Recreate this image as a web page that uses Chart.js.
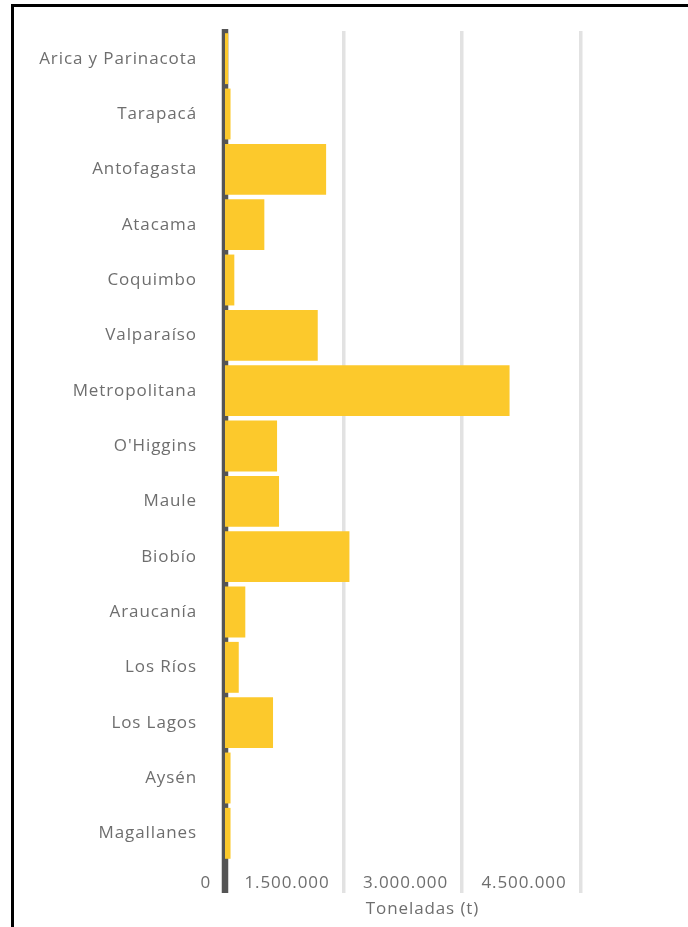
<!DOCTYPE html>
<html lang="es">
<head>
<meta charset="utf-8">
<title>Toneladas por región</title>
<script src="https://cdn.jsdelivr.net/npm/chart.js@4/dist/chart.umd.min.js"></script>
<style>
    html, body { margin: 0; padding: 0; background: #fff; }
    body { width: 688px; height: 927px; position: relative; overflow: hidden; }
    .frame {
        position: absolute;
        left: 11px; top: 4px; right: -20px; bottom: -20px;
        border-top: 3px solid #000;
        border-left: 3px solid #000;
    }
    .wrap { position: absolute; left: 0; top: 0; width: 688px; height: 927px; }
</style>
</head>
<body>
<div class="frame"></div>
<div class="wrap"><canvas id="chartRegiones"></canvas></div>
<script>
const REGIONES = [
    'Arica y Parinacota', 'Tarapacá', 'Antofagasta', 'Atacama', 'Coquimbo',
    'Valparaíso', 'Metropolitana', "O'Higgins", 'Maule', 'Biobío',
    'Araucanía', 'Los Ríos', 'Los Lagos', 'Aysén', 'Magallanes',
];
// toneladas
const TONELADAS = [
    40000, 70000, 1280000, 498000, 118000,
    1174000, 3602000, 659000, 684000, 1575000,
    257000, 174000, 608000, 70000, 70000,
];
const X_TICKS = [0, 1500000, 3000000, 4500000];
const X_MAX = 5000000;

Chart.defaults.font.family = '"Open Sans", sans-serif';
Chart.defaults.font.size = 17;
Chart.defaults.color = '#6e6e6e';

const fmt = v => String(v).replace(/\B(?=(\d{3})+(?!\d))/g, '.');

// texto algo más espaciado, como en el original
// (el resize del canvas borra el estado del contexto, así que se pone antes de medir y de dibujar)
const spacing = {
    id: 'spacing',
    beforeLayout: chart => { chart.ctx.letterSpacing = '0.9px'; },
    beforeDraw: chart => { chart.ctx.letterSpacing = '0.9px'; },
};

// línea del cero, gruesa y oscura, por debajo de las barras
const zeroLine = {
    id: 'zeroLine',
    beforeDatasetsDraw: chart => {
        const { ctx, chartArea, scales } = chart;
        const x = scales.x.getPixelForValue(0);
        ctx.save();
        ctx.strokeStyle = '#555';
        ctx.lineWidth = 6.5;
        ctx.beginPath();
        ctx.moveTo(x, chartArea.top - 2);
        ctx.lineTo(x, chartArea.bottom + 32);
        ctx.stroke();
        ctx.restore();
    },
};

new Chart(document.getElementById('chartRegiones'), {
    type: 'bar',
    data: {
        labels: REGIONES,
        datasets: [{
            label: 'Toneladas (t)',
            data: TONELADAS,
            backgroundColor: '#fcc92c',
            borderWidth: 0,
            barPercentage: 0.92,
            categoryPercentage: 1,
        }],
    },
    options: {
        indexAxis: 'y',
        responsive: true,
        maintainAspectRatio: false,
        animation: false,
        layout: { padding: { top: 31, right: 68, bottom: 0, left: 0 } },
        plugins: {
            legend: { display: false },
            tooltip: { enabled: false },
        },
        scales: {
            x: {
                min: 0,
                max: X_MAX,
                afterBuildTicks: scale => {
                    scale.ticks = X_TICKS.map(value => ({ value }));
                },
                afterFit: scale => {
                    scale.height = 66;
                    scale.paddingLeft = 0;
                    scale.paddingRight = 0;
                },
                border: { display: false },
                grid: {
                    color: '#e2e2e2',
                    lineWidth: ctx => (ctx.tick && ctx.tick.value === 0 ? 0 : 3.5),
                    tickLength: 32,
                },
                ticks: {
                    align: 'end',
                    labelOffset: -14,
                    padding: -20,
                    maxRotation: 0,
                    callback: v => fmt(v),
                },
                title: {
                    display: true,
                    text: 'Toneladas (t)',
                    padding: { top: 0, bottom: 8 },
                },
            },
            y: {
                afterFit: scale => {
                    scale.width = 225;
                    scale.paddingTop = 0;
                    scale.paddingBottom = 0;
                },
                border: { display: false },
                grid: { display: false, drawTicks: false },
                ticks: { padding: 28 },
            },
        },
    },
    plugins: [spacing, zeroLine],
});
</script>
</body>
</html>
